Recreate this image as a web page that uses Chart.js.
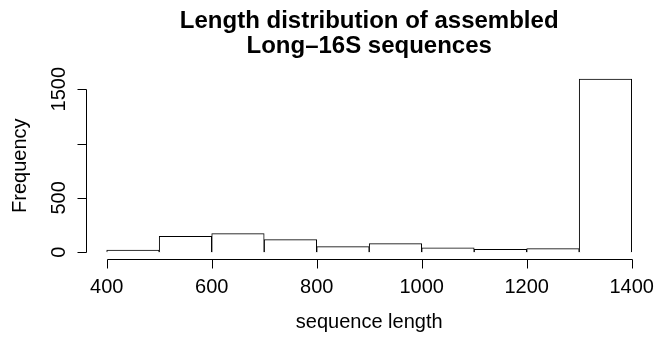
<!DOCTYPE html>
<html>
<head>
<meta charset="utf-8">
<script src="https://cdn.jsdelivr.net/npm/chart.js@4/dist/chart.umd.min.js"></script>
<style>
  html, body { margin: 0; padding: 0; background: #fff; }
  canvas { display: block; }
</style>
</head>
<body>
<canvas id="histChart" width="656" height="337"></canvas>
<script>
// histogram bins (left edges) and counts
const binStarts = [400, 500, 600, 700, 800, 900, 1000, 1100, 1200, 1300];
const binWidth = 100;
const counts = [21, 147, 172, 117, 52, 80, 40, 27, 33, 1594];

const xTicks = [400, 600, 800, 1000, 1200, 1400];
const yTicks = [0, 500, 1000, 1500];
const yTickLabels = ['0', '500', '', '1500']; // 1000 is dropped in the original (overlap)

const titleLines = ['Length distribution of assembled', 'Long\u201316S sequences'];
const xTitle = 'sequence length';
const yTitle = 'Frequency';

const FONT = '"Liberation Sans", Arial, Helvetica, sans-serif';

// R style axis range: data range stretched by 4% on each side
const xLo = binStarts[0], xHi = binStarts[binStarts.length - 1] + binWidth;
const yHi = Math.max(...counts);
const xPad = (xHi - xLo) * 0.04, yPad = yHi * 0.04;

const points = binStarts.map((s, i) => ({ x: s + binWidth / 2, y: counts[i] }));

const rAxes = {
  id: 'rAxes',
  beforeDraw(chart) {
    const ctx = chart.ctx;
    ctx.save();
    ctx.fillStyle = '#fff';
    ctx.fillRect(0, 0, chart.width, chart.height);
    ctx.restore();
  },
  afterDraw(chart) {
    const ctx = chart.ctx;
    const xs = chart.scales.x, ys = chart.scales.y;
    const area = chart.chartArea;
    ctx.save();
    ctx.strokeStyle = '#000';
    ctx.fillStyle = '#000';
    ctx.lineWidth = 1;

    // x axis
    const ay = Math.round(area.bottom) + 0.5;
    ctx.beginPath();
    ctx.moveTo(Math.round(xs.getPixelForValue(xTicks[0])) + 0.5, ay);
    ctx.lineTo(Math.round(xs.getPixelForValue(xTicks[xTicks.length - 1])) + 0.5, ay);
    xTicks.forEach(t => {
      const px = Math.round(xs.getPixelForValue(t)) + 0.5;
      ctx.moveTo(px, ay);
      ctx.lineTo(px, ay + 9);
    });
    ctx.stroke();
    ctx.font = '20px ' + FONT;
    ctx.textAlign = 'center';
    ctx.textBaseline = 'alphabetic';
    xTicks.forEach(t => ctx.fillText(String(t), xs.getPixelForValue(t), 293));

    // y axis
    const ax = Math.round(area.left) + 0.5;
    ctx.beginPath();
    ctx.moveTo(ax, Math.round(ys.getPixelForValue(yTicks[0])) + 0.5);
    ctx.lineTo(ax, Math.round(ys.getPixelForValue(yTicks[yTicks.length - 1])) + 0.5);
    yTicks.forEach(t => {
      const py = Math.round(ys.getPixelForValue(t)) + 0.5;
      ctx.moveTo(ax, py);
      ctx.lineTo(ax - 9, py);
    });
    ctx.stroke();
    yTicks.forEach((t, i) => {
      ctx.save();
      ctx.translate(65, ys.getPixelForValue(t));
      ctx.rotate(-Math.PI / 2);
      ctx.fillText(yTickLabels[i], 0, 0);
      ctx.restore();
    });

    // axis titles
    const cx = (area.left + area.right) / 2;
    const cy = (area.top + area.bottom) / 2;
    ctx.fillText(xTitle, cx, 328);
    ctx.save();
    ctx.translate(26, cy);
    ctx.rotate(-Math.PI / 2);
    ctx.fillText(yTitle, 0, 0);
    ctx.restore();

    // main title
    ctx.font = 'bold 24px ' + FONT;
    ctx.fillText(titleLines[0], cx, 28);
    ctx.fillText(titleLines[1], cx, 53);
    ctx.restore();
  }
};

const ctx = document.getElementById('histChart').getContext('2d');
const chart = new Chart(ctx, {
  type: 'bar',
  data: {
    datasets: [{
      label: 'Frequency',
      data: points,
      backgroundColor: '#fff',
      borderColor: '#000',
      borderWidth: 1,
      barPercentage: 1,
      categoryPercentage: 1
    }]
  },
  options: {
    responsive: false,
    animation: false,
    devicePixelRatio: 1,
    layout: {
      padding: { left: 85.7, right: 3.3, top: 72.1, bottom: 77.8 }
    },
    scales: {
      x: {
        type: 'linear',
        min: xLo - xPad,
        max: xHi + xPad,
        offset: false,
        display: false
      },
      y: {
        min: -yPad,
        max: yHi + yPad,
        display: false
      }
    },
    plugins: {
      legend: { display: false },
      tooltip: { enabled: false }
    }
  },
  plugins: [rAxes]
});

window.chart = chart;
</script>
</body>
</html>
